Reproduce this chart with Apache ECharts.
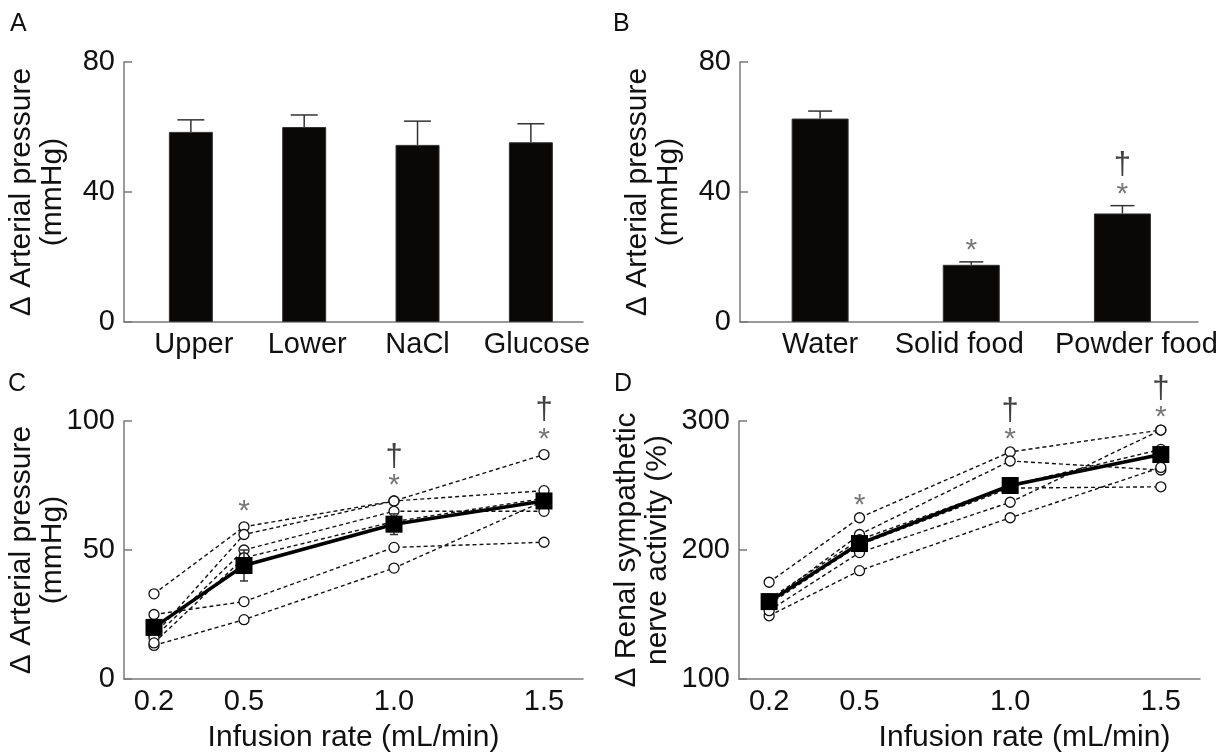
<!DOCTYPE html>
<html>
<head>
<meta charset="utf-8">
<script src="https://cdn.jsdelivr.net/npm/echarts@6/dist/echarts.min.js"></script>
<style>
html,body{margin:0;padding:0;background:#fff;}
#chart{width:1231px;height:754px;}
</style>
</head>
<body>
<div id="chart"></div>
<script>
// panel A: drinking site / solution
var catA = ['Upper', 'Lower', 'NaCl', 'Glucose'];
var meanA = [58.5, 60, 54.5, 55.3];
var seA = [3.7, 3.7, 7.3, 5.7];

// panel B: water vs food
var catB = ['Water', 'Solid food', 'Powder food'];
var meanB = [62.6, 17.6, 33.4];
var seB = [2.3, 0.9, 2.4];
var markB = ['', '*', '†\n*'];

// panels C and D: infusion rate
var rates = [0.2, 0.5, 1.0, 1.5];
var markCD = ['', '*', '†\n*', '†\n*'];

// C: arterial pressure, individual animals
var apC1 = [33, 59, 69, 87];
var apC2 = [25, 30, 51, 53];
var apC3 = [13, 23, 43, 69];
var apC4 = [17, 56, 69, 73];
var apC5 = [16, 50, 65, 65];
var apC6 = [14, 47, 61, 70];
var meanC = [20, 44, 60, 69];
var seC = [2, 6, 4, 2];

// D: renal sympathetic nerve activity, individual animals
var rsD1 = [175, 225, 276, 293];
var rsD2 = [160, 212, 269, 262];
var rsD3 = [149, 184, 225, 264];
var rsD4 = [153, 198, 237, 293];
var rsD5 = [158, 204, 248, 249];
var rsD6 = [162, 208, 250, 278];
var meanD = [160, 205, 250, 274];
var seD = [3, 4, 5, 4];

var font = '"Liberation Sans", Arial, sans-serif';
var ink = '#111';
var axisCol = '#7a7a7a';
var fs = 29;

var chart = echarts.init(document.getElementById('chart'));

// error bar drawer
var errBar = function (capW, both) {
    return function (params, api) {
        var x = api.value(0), m = api.value(1), s = api.value(2);
        var top = api.coord([x, m + s]);
        var mid = api.coord([x, m]);
        var bot = api.coord([x, m - s]);
        var st = {stroke: '#333', lineWidth: 1.5};
        var ch = [
            {type: 'line', shape: {x1: mid[0], y1: mid[1], x2: top[0], y2: top[1]}, style: st},
            {type: 'line', shape: {x1: top[0] - capW / 2, y1: top[1], x2: top[0] + capW / 2, y2: top[1]}, style: st}
        ];
        if (both) {
            ch.push({type: 'line', shape: {x1: mid[0], y1: mid[1], x2: bot[0], y2: bot[1]}, style: st});
            ch.push({type: 'line', shape: {x1: bot[0] - capW / 2, y1: bot[1], x2: bot[0] + capW / 2, y2: bot[1]}, style: st});
        }
        return {type: 'group', children: ch};
    };
};

var markLabel = {
    show: true,
    position: 'top',
    distance: 5,
    formatter: function (p) {
        var t = p.data[2];
        if (!t) return '';
        return t.split('\n').map(function (c) {
            return c === '*' ? '{s|*}' : '{d|†}';
        }).join('\n');
    },
    rich: {
        s: {fontSize: 30, color: '#555', fontFamily: font, lineHeight: 22, padding: [8, 0, 0, 0]},
        d: {fontSize: 31, color: ink, fontFamily: font, lineHeight: 28}
    }
};

var yAxisBase = function (idx, min, max, step, name, gap) {
    return {
        gridIndex: idx, type: 'value', min: min, max: max, interval: step,
        axisLine: {show: true, lineStyle: {color: axisCol, width: 1.5}},
        axisTick: {show: true, inside: true, length: 8, lineStyle: {color: axisCol, width: 1.5}},
        axisLabel: {color: ink, fontSize: fs, fontFamily: font, margin: 9},
        splitLine: {show: false},
        name: name, nameLocation: 'middle', nameGap: gap, nameMoveOverlap: false,
        nameTextStyle: {color: ink, fontSize: 30, fontFamily: font, lineHeight: 31}
    };
};

// bars sit at positions 1..n on a value axis; pads nudge a label off-centre like the original
var xCat = function (idx, min, max, cats, pads) {
    var rich = {};
    cats.forEach(function (c, i) {
        rich['c' + i] = {fontSize: fs, fontFamily: font, color: ink, padding: pads[i]};
    });
    return {
        gridIndex: idx, type: 'value', min: min, max: max,
        axisLine: {show: true, onZero: false, lineStyle: {color: axisCol, width: 1.5}},
        axisTick: {show: false},
        splitLine: {show: false},
        axisLabel: {
            color: ink, fontSize: fs, fontFamily: font, margin: 8,
            customValues: cats.map(function (c, i) { return i + 1; }),
            formatter: function (v) {
                var i = Math.round(v) - 1;
                return '{c' + i + '|' + cats[i] + '}';
            },
            rich: rich
        }
    };
};

var xRate = function (idx, namePad) {
    return {
        gridIndex: idx, type: 'value', min: 0.1, max: 1.63,
        axisLine: {show: true, onZero: false, lineStyle: {color: axisCol, width: 1.5}},
        axisTick: {show: false},
        splitLine: {show: false},
        axisLabel: {
            color: ink, fontSize: fs, fontFamily: font, margin: 8,
            customValues: rates,
            formatter: function (v) { return v.toFixed(1); }
        },
        name: 'Infusion rate (mL/min)', nameLocation: 'middle', nameGap: 44, nameMoveOverlap: false,
        nameTextStyle: {color: ink, fontSize: 30, fontFamily: font, padding: namePad}
    };
};

var barSeries = function (idx, means, ses, capW, bw) {
    return [
        {
            type: 'bar', xAxisIndex: idx, yAxisIndex: idx, barWidth: bw,
            itemStyle: {color: '#0a0707', borderColor: '#333', borderWidth: 1},
            data: means.map(function (m, i) { return [i + 1, m]; })
        },
        {
            type: 'custom', xAxisIndex: idx, yAxisIndex: idx, z: 3,
            renderItem: errBar(capW, false), encode: {x: 0, y: 1},
            data: means.map(function (m, i) { return [i + 1, m, ses[i]]; })
        }
    ];
};

var indivSeries = function (idx, ys) {
    return {
        type: 'line', xAxisIndex: idx, yAxisIndex: idx, z: 2,
        symbol: 'circle', symbolSize: 10, showSymbol: true,
        itemStyle: {color: '#fff', borderColor: ink, borderWidth: 1.3},
        lineStyle: {color: ink, width: 1.4, type: [4, 3]},
        data: rates.map(function (r, i) { return [r, ys[i]]; })
    };
};

var meanSeries = function (idx, means, ses) {
    return [
        {
            type: 'custom', xAxisIndex: idx, yAxisIndex: idx, z: 4,
            renderItem: errBar(8, true), encode: {x: 0, y: 1},
            data: rates.map(function (r, i) { return [r, means[i], ses[i]]; })
        },
        {
            type: 'line', xAxisIndex: idx, yAxisIndex: idx, z: 5,
            symbol: 'rect', symbolSize: 17, showSymbol: true,
            itemStyle: {color: '#000'},
            lineStyle: {color: '#000', width: 3.5},
            data: rates.map(function (r, i) { return [r, means[i]]; })
        }
    ];
};

var markSeries = function (idx, xs, tops, marks, dist) {
    var lab = echarts.util.extend({}, markLabel);
    lab.distance = dist;
    return {
        type: 'scatter', xAxisIndex: idx, yAxisIndex: idx, z: 6,
        symbolSize: 0, clip: false, silent: true,
        label: lab,
        data: xs.map(function (x, i) { return [x, tops[i], marks[i]]; })
    };
};

var groupC = [apC1, apC2, apC3, apC4, apC5, apC6];
var groupD = [rsD1, rsD2, rsD3, rsD4, rsD5, rsD6];
var maxOf = function (group) {
    return rates.map(function (r, i) {
        return Math.max.apply(null, group.map(function (g) { return g[i]; }));
    });
};

var series = [];
series = series.concat(barSeries(0, meanA, seA, 27, 44));
series = series.concat(barSeries(1, meanB, seB, 24, 57));
series.push(markSeries(1, catB.map(function (c, i) { return i + 1; }),
    meanB.map(function (m, i) { return m + seB[i]; }), markB, 4));
groupC.forEach(function (g) { series.push(indivSeries(2, g)); });
series = series.concat(meanSeries(2, meanC, seC));
series.push(markSeries(2, rates, maxOf(groupC), markCD, 8));
groupD.forEach(function (g) { series.push(indivSeries(3, g)); });
series = series.concat(meanSeries(3, meanD, seD));
series.push(markSeries(3, rates, maxOf(groupD), markCD, 5));

var letter = function (t, l, tp) {
    return {text: t, left: l, top: tp, padding: 0,
        textStyle: {color: ink, fontSize: 25, fontWeight: 'normal', fontFamily: font}};
};

var option = {
    animation: false,
    backgroundColor: '#fff',
    title: [letter('A', 10, 12), letter('B', 613, 12), letter('C', 8, 372), letter('D', 614, 372)],
    grid: [
        {left: 124, top: 62, width: 459, height: 260},
        {left: 740, top: 62, width: 458, height: 260},
        {left: 124, top: 421, width: 459, height: 259},
        {left: 739, top: 421, width: 461, height: 259}
    ],
    xAxis: [
        xCat(0, 0.41, 4.46, catA, [[0, 0, 0, 6], [0, 0, 0, 6], 0, [0, 0, 0, 12]]),
        xCat(1, 0.47, 3.5, catB, [0, [0, 24, 0, 0], [0, 0, 0, 28]]),
        xRate(2, [0, 0, 0, 0]),
        xRate(3, [0, 0, 0, 110])
    ],
    yAxis: [
        yAxisBase(0, 0, 80, 40, 'Δ Arterial pressure\n(mmHg)', 56),
        yAxisBase(1, 0, 80, 40, 'Δ Arterial pressure\n(mmHg)', 56),
        yAxisBase(2, 0, 100, 50, 'Δ Arterial pressure\n(mmHg)', 56),
        yAxisBase(3, 100, 300, 100, 'Δ Renal sympathetic\nnerve activity (%)', 66)
    ],
    series: series
};

chart.setOption(option);
</script>
</body>
</html>
